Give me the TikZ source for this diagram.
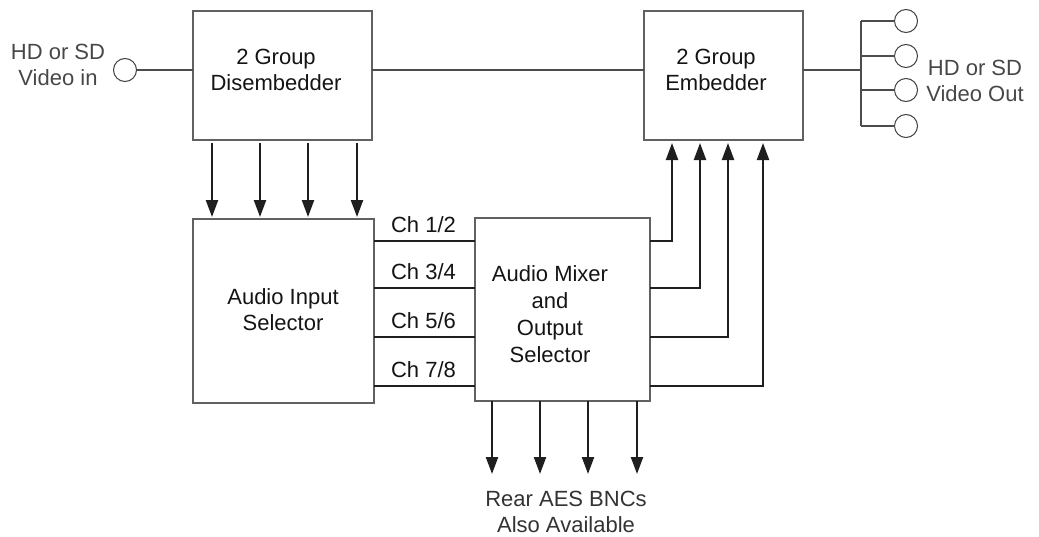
\documentclass[tikz,border=0pt]{standalone}
\usepackage{fontspec}
\setmainfont{Liberation Sans}
\usetikzlibrary{arrows.meta,positioning}

\begin{document}
\begin{tikzpicture}[
    x=0.5pt, y=-0.5pt,
    blockbox/.style={rectangle, draw=black!62, line width=0.65pt, inner sep=0pt, outer sep=0pt},
    blocktext/.style={font=\fontsize{11}{13}\selectfont, align=center, text=black!92},
    outtext/.style={font=\fontsize{11}{13}\selectfont, align=center, text=black!72},
    chtext/.style={font=\fontsize{11}{13}\selectfont, anchor=base west, text=black!92},
    bnc/.style={circle, draw=black!75, line width=0.5pt, minimum size=11.5pt, inner sep=0pt, outer sep=0pt},
    sigline/.style={draw=black!70, line width=0.65pt},
    busline/.style={draw=black!88, line width=1.1pt},
    busarrow/.style={busline, -{Triangle[length=8.5pt, width=6pt]}}
]
\useasboundingbox (0,0) rectangle (1039,536);

% Video input
\node[bnc] (vin) at (125,70) {};
\node[outtext] (vintext) at (58,65) {HD or SD\\Video in};

% Disembedder and embedder
\node[blockbox, minimum width=89.5pt, minimum height=64.5pt] (dis) at (282.5,75.5) {};
\node[blocktext] (distext) at (276,70) {2 Group\\Disembedder};
\node[blockbox, minimum width=79.5pt, minimum height=64.5pt] (emb) at (723.5,75.5) {};
\node[blocktext] (embtext) at (716,70) {2 Group\\Embedder};

% Audio selectors
\node[blockbox, minimum width=90.5pt, minimum height=92pt] (ais) at (283.5,311) {};
\node[blocktext] (aistext) at (283,310) {Audio Input\\Selector};
\node[blockbox, minimum width=87.5pt, minimum height=91.5pt] (mix) at (562.5,309.5) {};
\node[blocktext, font=\fontsize{11}{13.6}\selectfont] (mixtext) at (550,314) {Audio Mixer\\and\\Output\\Selector};

% Video outputs
\coordinate (bus) at (861,70);
\foreach \i/\y in {1/21, 2/56, 3/90, 4/126}
  \node[bnc] (out\i) at (906,\y) {};
\node[outtext] (vouttext) at (975,81) {HD or SD\\Video Out};

% Video path
\draw[sigline] (vin) -- (vin -| dis.west);
\draw[sigline] (dis.east |- vin) -- (emb.west |- vin);
\draw[sigline] (emb.east |- vin) -- (bus);
\draw[sigline] (bus |- out1) -- (bus |- out4);
\foreach \i in {1,...,4}
  \draw[sigline] (bus |- out\i) -- (out\i);

% Disembedded audio into input selector
\foreach \x in {212,260,308,357}
  \draw[busarrow, shorten <=1.5pt, shorten >=1pt] (\x,0 |- dis.south) -- (\x,0 |- ais.north);

% Channel pairs and returns to embedder
\foreach \i/\y/\ux/\ca/\cb in {1/241/672/1/2, 2/288/700/3/4, 3/337/728/5/6, 4/386/763/7/8} {
  \coordinate (ch\i) at (424,\y);
  \coordinate (up\i) at (\ux,\y);
  \draw[busline] (ais.east |- ch\i) -- (mix.west |- ch\i);
  \node[chtext] (chlab\i) at (384,\y-8.5) {Ch \ca/\cb};
  \draw[busarrow, shorten >=1.5pt] (mix.east |- ch\i) -- (up\i) -- (up\i |- emb.south);
}

% Rear AES outputs
\node[outtext, text=black!80] (rear) at (566,512) {Rear AES BNCs\\Also Available};
\foreach \i/\x in {1/492, 2/540, 3/588, 4/637} {
  \coordinate (aes\i) at (\x,474);
  \draw[busarrow] (aes\i |- mix.south) -- (aes\i);
}

\end{tikzpicture}
\end{document}
